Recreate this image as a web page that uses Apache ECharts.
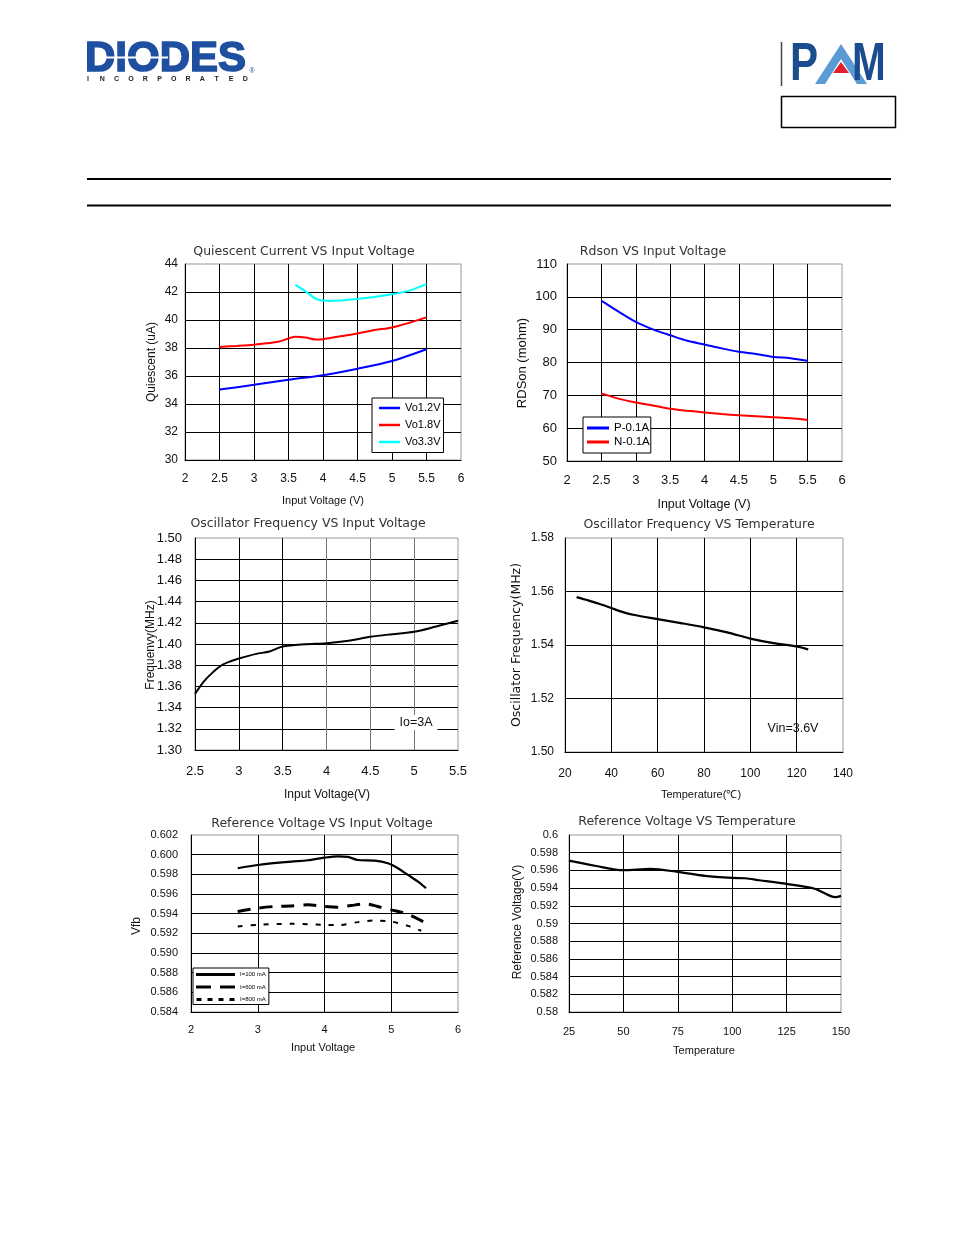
<!DOCTYPE html>
<html><head><meta charset="utf-8">
<script src="https://cdn.jsdelivr.net/npm/echarts@6/dist/echarts.min.js"></script>
<style>html,body{margin:0;padding:0;background:#fff}#c{width:954px;height:1235px}</style>
</head><body><div id="c"></div>
<script>
// ---- Data ----
// Chart 1: Quiescent Current VS Input Voltage
const qX12 = [2.5, 3, 3.5, 4, 4.5, 5, 5.5];
const qY12 = [35.03, 35.37, 35.73, 36.06, 36.52, 37.07, 37.91];
const qX18 = [2.5, 2.75, 3, 3.35, 3.5, 3.6, 3.75, 3.9, 4, 4.25, 4.5, 4.75, 5, 5.25, 5.5];
const qY18 = [38.08, 38.15, 38.24, 38.44, 38.68, 38.8, 38.75, 38.6, 38.63, 38.84, 39.04, 39.28, 39.47, 39.8, 40.19];
const qX33 = [3.6, 3.75, 3.9, 4, 4.1, 4.5, 5, 5.25, 5.5];
const qY33 = [42.51, 42.03, 41.5, 41.39, 41.36, 41.5, 41.84, 42.1, 42.56];
const qNames = ['Vo1.2V', 'Vo1.8V', 'Vo3.3V'];
// Chart 2: Rdson VS Input Voltage
const rXP = [2.5, 2.6, 2.75, 3, 3.25, 3.5, 3.75, 4, 4.25, 4.5, 4.75, 5, 5.25, 5.5];
const rYP = [98.8, 97.5, 95.5, 92.4, 90.1, 88.3, 86.6, 85.5, 84.3, 83.3, 82.6, 81.7, 81.3, 80.5];
const rXN = [2.5, 2.75, 3, 3.25, 3.5, 3.75, 4, 4.25, 4.5, 4.75, 5, 5.25, 5.5];
const rYN = [70.6, 69.0, 67.8, 66.9, 65.9, 65.3, 64.8, 64.3, 63.9, 63.6, 63.3, 63.0, 62.5];
const rNames = ['P-0.1A', 'N-0.1A'];
// Chart 3: Oscillator Frequency VS Input Voltage
const oVX = [2.5, 2.6, 2.7, 2.8, 2.9, 3, 3.2, 3.35, 3.5, 3.75, 4, 4.25, 4.5, 4.75, 5, 5.25, 5.5];
const oVY = [1.353, 1.3646, 1.373, 1.3797, 1.3835, 1.3863, 1.3907, 1.3929, 1.3976, 1.3998, 1.4008, 1.403, 1.4068, 1.4093, 1.4115, 1.4165, 1.4219];
// Chart 4: Oscillator Frequency VS Temperature
const oTX = [25, 30, 35, 40, 45, 50, 60, 70, 80, 90, 100, 110, 120, 125];
const oTY = [1.5579, 1.5567, 1.5553, 1.5538, 1.5523, 1.5512, 1.5497, 1.5482, 1.5466, 1.5447, 1.5424, 1.5407, 1.5395, 1.5383];
// Chart 5: Reference Voltage VS Input Voltage
const fXa = [2.7, 3, 3.5, 3.75, 4, 4.2, 4.35, 4.5, 4.75, 4.95, 5.1, 5.25, 5.4, 5.52];
const fYa = [0.59862, 0.59895, 0.59929, 0.59943, 0.5997, 0.59983, 0.59977, 0.59946, 0.5994, 0.59912, 0.59862, 0.59794, 0.59726, 0.59659];
const fXb = [2.7, 3, 3.25, 3.5, 3.75, 4, 4.2, 4.4, 4.6, 4.8, 5, 5.25, 5.52];
const fYb = [0.59422, 0.59456, 0.59473, 0.59479, 0.5949, 0.59473, 0.59466, 0.59483, 0.595, 0.59473, 0.59439, 0.59395, 0.59303];
const fXc = [2.7, 3, 3.5, 4, 4.2, 4.5, 4.75, 5, 5.25, 5.45];
const fYc = [0.5927, 0.59287, 0.59297, 0.59287, 0.59283, 0.59314, 0.5933, 0.5932, 0.59276, 0.59226];
const fNames = ['I=100 mA', 'I=600 mA', 'I=800 mA'];
// Chart 6: Reference Voltage VS Temperature
const tX = [25, 37.5, 50, 62.5, 75, 87.5, 100, 106, 112.5, 125, 137.5, 145, 147.5, 150];
const tY = [0.59711, 0.5965, 0.59602, 0.59617, 0.59583, 0.59538, 0.59515, 0.59511, 0.59489, 0.59447, 0.59395, 0.59312, 0.59297, 0.59312];

const titles = ['Quiescent Current VS Input Voltage', 'Rdson VS Input Voltage',
  'Oscillator Frequency VS Input Voltage', 'Oscillator Frequency VS Temperature',
  'Reference Voltage VS Input Voltage', 'Reference Voltage VS Temperature'];
const xNames = ['Input Voltage (V)', 'Input Voltage (V)', 'Input Voltage(V)', 'Temperature(\u2103)', 'Input Voltage', 'Temperature'];
const yNames = ['Quiescent (uA)', 'RDSon (mohm)', 'Frequenvy(MHz)', 'Oscillator Frequency(MHz)', 'Vfb', 'Reference Voltage(V)'];

const pairs = (xs, ys) => xs.map((v, i) => [v, ys[i]]);
const FF = 'Liberation Sans, Arial, sans-serif';

function axis(g, min, max, interval, fs, margin, fmt) {
  const a = {
    type: 'value', gridIndex: g, min, max, interval,
    axisLine: { show: true, onZero: false, lineStyle: { color: '#000', width: 1 } },
    axisTick: { show: false },
    axisLabel: { fontSize: fs, margin, color: '#111', fontFamily: FF, showMinLabel: true, showMaxLabel: true },
    splitLine: { show: true, showMinLine: false, showMaxLine: false, lineStyle: { color: '#000', width: 1 } }
  };
  if (fmt) a.axisLabel.formatter = fmt;
  return a;
}

const grids = [
  { left: 185, top: 264, width: 276, height: 196 },
  { left: 567, top: 264, width: 275, height: 197 },
  { left: 195, top: 538, width: 263, height: 212 },
  { left: 565, top: 538, width: 278, height: 214 },
  { left: 191, top: 835, width: 267, height: 177 },
  { left: 569, top: 835, width: 272, height: 177 }
].map(g => Object.assign(g, { show: true, borderColor: '#999', borderWidth: 1, backgroundColor: 'transparent' }));

const xAxes = [
  axis(0, 2, 6, 0.5, 12, 13),
  axis(1, 2, 6, 0.5, 13, 13),
  axis(2, 2.5, 5.5, 0.5, 13, 15),
  axis(3, 20, 140, 20, 12, 16),
  axis(4, 2, 6, 1, 11, 12),
  axis(5, 25, 150, 25, 11, 14)
];
xAxes[2].splitLine.lineStyle.color = ['#000', '#000', '#777', '#777', '#777', '#777', '#777'];
const yAxes = [
  axis(0, 30, 44, 2, 12, 7),
  axis(1, 50, 110, 10, 13, 10),
  axis(2, 1.30, 1.50, 0.02, 13, 13, v => v.toFixed(2)),
  axis(3, 1.50, 1.58, 0.02, 12, 11, v => v.toFixed(2)),
  axis(4, 0.584, 0.602, 0.002, 11, 13, v => v.toFixed(3)),
  axis(5, 0.58, 0.6, 0.002, 11, 11, v => String(+v.toFixed(3)))
];

const line = (name, g, data, color, width, type) => ({
  name, type: 'line', xAxisIndex: g, yAxisIndex: g, data, smooth: 0.3,
  symbol: 'none', lineStyle: { color, width, type: type || 'solid' }, itemStyle: { color }
});

const series = [
  line(qNames[0], 0, pairs(qX12, qY12), '#0000ff', 2),
  line(qNames[1], 0, pairs(qX18, qY18), '#ff0000', 2),
  line(qNames[2], 0, pairs(qX33, qY33), '#00ffff', 2),
  line(rNames[0], 1, pairs(rXP, rYP), '#0000ff', 2),
  line(rNames[1], 1, pairs(rXN, rYN), '#ff0000', 2),
  line('osc-vin', 2, pairs(oVX, oVY), '#000', 2),
  line('osc-temp', 3, pairs(oTX, oTY), '#000', 2.2),
  line(fNames[0], 4, pairs(fXa, fYa), '#000', 2.2),
  line(fNames[1], 4, pairs(fXb, fYb), '#000', 3, [13, 9]),
  line(fNames[2], 4, pairs(fXc, fYc), '#000', 2, [5, 8]),
  line('vref-temp', 5, pairs(tX, tY), '#000', 2.2)
];

const legendBase = { orient: 'vertical', backgroundColor: '#fff', borderColor: '#000', borderWidth: 1, itemStyle: { borderWidth: 0 } };
const legends = [
  Object.assign({}, legendBase, { data: qNames, left: 372, top: 398, icon: 'rect', itemWidth: 21, itemHeight: 2.5, itemGap: 6, itemTextGap: 3, padding: [4.5, 3, 5, 7], textStyle: { color: '#000', fontFamily: FF, fontSize: 11 } }),
  Object.assign({}, legendBase, { data: rNames, left: 583, top: 417, icon: 'rect', itemWidth: 22, itemHeight: 3, itemGap: 2, itemTextGap: 3, padding: [5, 1, 5, 4], textStyle: { color: '#000', fontFamily: FF, fontSize: 11.5 } }),
  Object.assign({}, legendBase, {
    data: [
      { name: fNames[0], icon: 'rect' },
      { name: fNames[1], icon: 'path://M0,0h15v3h-15zM24,0h15v3h-15z' },
      { name: fNames[2], icon: 'path://M0,0h5v3h-5zM11,0h5v3h-5zM22,0h5v3h-5zM33,0h5v3h-5z' }
    ],
    left: 193, top: 968, itemWidth: 39, itemHeight: 3, itemGap: 6.5, padding: [3.5, 3, 2, 3], itemTextGap: 1,
    textStyle: { color: '#000', fontFamily: FF, fontSize: 6 }
  })
];

function T(x, y, text, fs, opt) {
  opt = opt || {};
  return {
    type: 'text', x, y, rotation: opt.rot || 0, scaleX: opt.sx || 1, z: 100,
    style: Object.assign({ text, fontSize: fs, fontFamily: opt.ff || FF, fontWeight: opt.fw || 'normal',
      fill: opt.fill || '#111', align: opt.align || 'center', verticalAlign: 'middle' }, opt.style || {})
  };
}
const R90 = Math.PI / 2;
const TF = 'DejaVu Sans, sans-serif';
const graphic = [
  // header logos
  T(85, 59, 'DIODES', 42, { align: 'left', fw: 'bold', fill: '#1f4fa0', style: { stroke: '#1f4fa0', lineWidth: 1.6 } }),
  { type: 'line', shape: { x1: 95, y1: 57.5, x2: 168, y2: 57.5 }, style: { stroke: '#fff', lineWidth: 2 }, z: 101 },
  T(252, 71, '\u00ae', 7, { fill: '#1f4fa0' }),
  ...'INCORPORATED'.split('').map((ch, i) => T(88 + i * 14.3, 79, ch, 7, { fw: 'bold', fill: '#222' })),
  { type: 'line', shape: { x1: 781.5, y1: 42, x2: 781.5, y2: 86 }, style: { stroke: '#444', lineWidth: 1.5 } },
  T(790, 65, 'P', 54, { align: 'left', fw: 'bold', fill: '#1b4d8e', sx: 0.78 }),
  { type: 'polygon', shape: { points: [[815, 84], [841, 44], [867, 84], [857, 84], [841, 59], [825, 84]] }, style: { fill: '#5b9bd5' } },
  { type: 'polygon', shape: { points: [[833, 73], [841, 62], [849, 73]] }, style: { fill: '#e0202a' } },
  T(852, 65, 'M', 54, { align: 'left', fw: 'bold', fill: '#1b4d8e', sx: 0.75 }),
  { type: 'rect', shape: { x: 781.5, y: 96.5, width: 114, height: 31 }, style: { fill: 'none', stroke: '#000', lineWidth: 1.5 } },
  { type: 'line', shape: { x1: 87, y1: 179, x2: 891, y2: 179 }, style: { stroke: '#000', lineWidth: 2 } },
  { type: 'line', shape: { x1: 87, y1: 205.5, x2: 891, y2: 205.5 }, style: { stroke: '#000', lineWidth: 2 } },
  // titles
  T(304, 251.5, titles[0], 12.5, { ff: TF, fill: '#333' }),
  T(653, 251.5, titles[1], 12.5, { ff: TF, fill: '#333' }),
  T(308, 524, titles[2], 12.5, { ff: TF, fill: '#333' }),
  T(699, 524.5, titles[3], 12.5, { ff: TF, fill: '#333' }),
  T(322, 823.5, titles[4], 12.5, { ff: TF, fill: '#333' }),
  T(687, 822, titles[5], 12.5, { ff: TF, fill: '#333' }),
  // x axis names
  T(323, 500.5, xNames[0], 11),
  T(704, 505, xNames[1], 12.5),
  T(327, 795, xNames[2], 12),
  T(701, 795, xNames[3], 11),
  T(323, 1048, xNames[4], 11),
  T(704, 1050.5, xNames[5], 11),
  // y axis names
  T(152, 362, yNames[0], 12, { rot: R90 }),
  T(522, 363, yNames[1], 13, { rot: R90 }),
  T(151, 645, yNames[2], 12, { rot: R90 }),
  T(517, 645, yNames[3], 12.5, { rot: R90, ff: TF }),
  T(137, 926, yNames[4], 12, { rot: R90 }),
  T(518, 922, yNames[5], 12, { rot: R90 }),
  // annotations
  T(416, 722.5, 'Io=3A', 12.5, { style: { backgroundColor: '#fff', padding: [1, 5, 1, 5] } }),
  T(793, 729, 'Vin=3.6V', 12.5)
];

const chart = echarts.init(document.getElementById('c'), null, { renderer: 'canvas' });
chart.setOption({
  animation: false, backgroundColor: '#fff',
  grid: grids, xAxis: xAxes, yAxis: yAxes, legend: legends, series, graphic
});
</script></body></html>
